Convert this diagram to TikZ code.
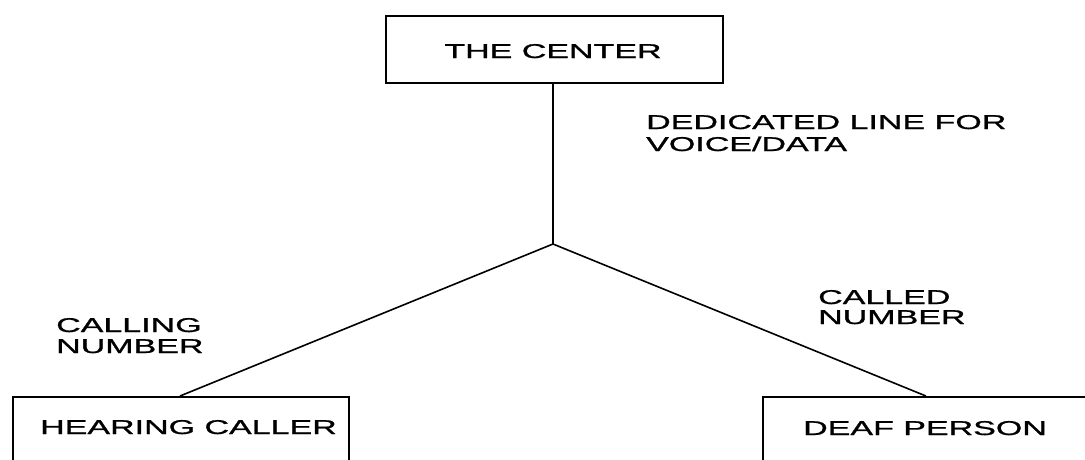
\documentclass[tikz,border=0pt]{standalone}
\usepackage{fontspec}
\usepackage{graphicx}
\setmainfont{Liberation Sans}
\newfontfamily\lblfont{Liberation Sans}[FakeBold=0.8]
\newcommand\widetxt[1]{\scalebox{1.7}[1]{#1}}
\tikzset{
  boxnode/.style={draw=black, line width=1.8pt, rectangle, inner sep=0pt},
  lbl/.style={inner sep=0pt, font=\lblfont\fontsize{20pt}{22pt}\selectfont, anchor=base west},
  conn/.style={draw=black, line width=1.6pt}
}
\begin{document}
\begin{tikzpicture}[x=1pt,y=-1pt]
\clip (0,0) rectangle (1085,459);
\fill[white] (0,0) rectangle (1085,459);
% boxes
\node[boxnode, minimum width=337pt, minimum height=67pt, anchor=north west] (center) at (385,15) {};
\node[boxnode, minimum width=336pt, minimum height=90pt, anchor=north west] (hear) at (12,396) {};
\node[boxnode, minimum width=326pt, minimum height=90pt, anchor=north west] (deaf) at (762,396) {};
% box texts
\node[lbl, anchor=base] (tcenter) at (553,58) {\widetxt{THE CENTER}};
\node[lbl] (thear) at (40,434) {\widetxt{HEARING CALLER}};
\node[lbl] (tdeaf) at (803,435) {\widetxt{DEAF PERSON}};
% connector labels
\node[lbl] (ded1) at (646,129) {\widetxt{DEDICATED LINE FOR}};
\node[lbl] (ded2) at (646,151) {\widetxt{VOICE/DATA}};
\node[lbl] (cal1) at (56,332) {\widetxt{CALLING}};
\node[lbl] (cal2) at (56,353) {\widetxt{NUMBER}};
\node[lbl] (cld1) at (818,304) {\widetxt{CALLED}};
\node[lbl] (cld2) at (818,324) {\widetxt{NUMBER}};
% connectors
\coordinate (j) at (553,244);
\coordinate (hl) at (180,396);
\draw[conn] (center.south -| j) -- (j);
\draw[conn] (j) -- (hl);
\draw[conn] (j) -- (deaf.north);
\end{tikzpicture}
\end{document}
